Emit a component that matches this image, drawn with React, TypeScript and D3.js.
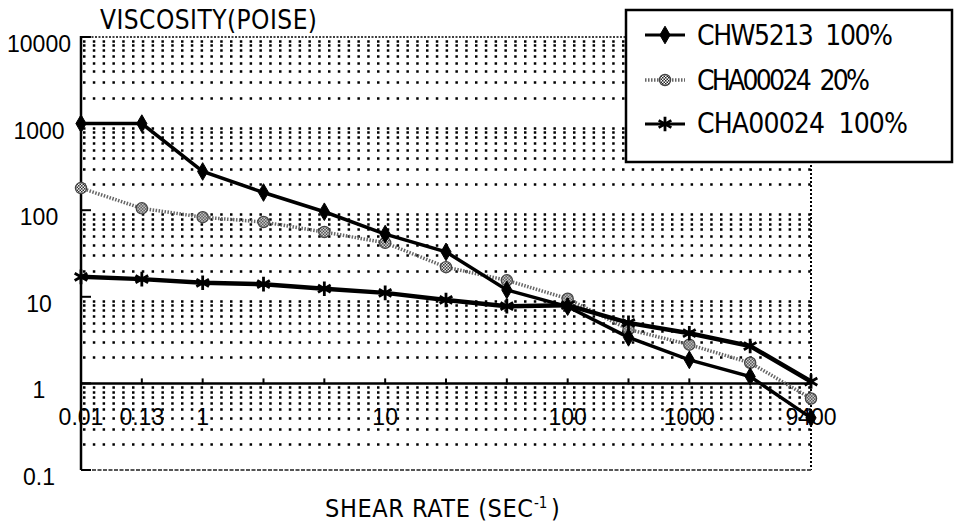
import React from 'react';
import * as d3 from 'd3';

// Shear-rate categories (evenly spaced points), with the labels shown under the axis
const shearRateLabels = ['0.01', '0.13', '1', '', '', '10', '', '', '100', '', '1000', '', '9400'];

// Viscosity (poise) per shear-rate point
const chw5213_100 = [1000, 1000, 280, 160, 96, 53, 33, 12, 7.7, 3.4, 1.87, 1.2, 0.4];
const cha00024_20 = [180, 105, 83, 73, 56, 42, 22, 15.5, 9.5, 4.2, 2.8, 1.73, 0.67];
const cha00024_100 = [17, 16, 14.5, 14, 12.4, 11.1, 9.2, 7.8, 8.0, 5.0, 3.8, 2.7, 1.05];

const seriesNames = ['CHW5213  100%', 'CHA00024  20%', 'CHA00024  100%'];
const viscosityTicks = [0.1, 1, 10, 100, 1000, 10000];

const W = 954;
const H = 528;
const PL = 81;
const PR = 811;
const PT = 37;
const PB = 470;

const NARROW = '"Liberation Sans Narrow", "DejaVu Sans Condensed", "Liberation Sans", sans-serif';
const SANS = '"Liberation Sans", Arial, sans-serif';

export default function App() {
  const x = d3.scalePoint<number>().domain(d3.range(shearRateLabels.length)).range([PL, PR]);
  const y = d3.scaleLog().domain([0.1, 10000]).range([PB, PT]);

  // minor grid rows: 2..9 within each decade
  const minor: number[] = [];
  for (let d = 0.1; d < 10000; d *= 10) {
    for (let k = 2; k <= 9; k++) minor.push(+(k * d).toPrecision(3));
  }

  const line = d3
    .line<number>()
    .x((_, i) => x(i) as number)
    .y((v) => y(v));

  const diamond = d3.symbol(d3.symbolDiamond, 90)()!;
  const asterisk = d3.symbol(d3.symbolAsterisk, 150)()!;
  const circle = d3.symbol(d3.symbolCircle, 100)()!;

  const Diamond = ({ cx, cy }: { cx: number; cy: number }) => (
    <path d={diamond} transform={`translate(${cx},${cy})`} fill="#000" stroke="#000" strokeWidth={1} />
  );
  const Hatched = ({ cx, cy }: { cx: number; cy: number }) => (
    <path d={circle} transform={`translate(${cx},${cy})`} fill="url(#checker)" stroke="#444" strokeWidth={1.2} />
  );
  const Star = ({ cx, cy }: { cx: number; cy: number }) => (
    <path d={asterisk} transform={`translate(${cx},${cy})`} fill="none" stroke="#000" strokeWidth={2.8} />
  );

  const axisY = y(1);

  return (
    <svg
      width={W}
      height={H}
      viewBox={`0 0 ${W} ${H}`}
      style={{ position: 'absolute', left: 0, top: 0, background: '#fff' }}
    >
      <defs>
        <pattern id="checker" width="3" height="3" patternUnits="userSpaceOnUse">
          <rect width="3" height="3" fill="#fff" />
          <rect width="1.5" height="1.5" fill="#222" />
          <rect x="1.5" y="1.5" width="1.5" height="1.5" fill="#222" />
        </pattern>
      </defs>
      <rect width={W} height={H} fill="#fff" />

      {/* dotted minor grid */}
      <g>
        {minor.map((v) => (
          <line
            key={v}
            x1={PL + 2}
            x2={PR}
            y1={Math.round(y(v)) + 0.5}
            y2={Math.round(y(v)) + 0.5}
            stroke="#000"
            strokeWidth={2.5}
            strokeDasharray="2.5 7.3"
          />
        ))}
      </g>

      {/* plot frame */}
      <line x1={PL} x2={PR} y1={PT} y2={PT} stroke="#000" strokeWidth={1.5} strokeDasharray="2 1.5" />
      <line x1={PR} x2={PR} y1={PT} y2={PB} stroke="#000" strokeWidth={2} strokeDasharray="2 2" />
      <line x1={PL} x2={PR} y1={PB} y2={PB} stroke="#555" strokeWidth={2} strokeDasharray="4 1.5" />
      <line x1={PL} x2={PL} y1={PT - 1} y2={PB} stroke="#000" strokeWidth={2.5} />

      {/* y ticks pointing inward */}
      {viscosityTicks.map((v) => (
        <line key={v} x1={PL} x2={PL + 10} y1={y(v)} y2={y(v)} stroke="#000" strokeWidth={2} />
      ))}

      {/* category axis at viscosity 1 */}
      <line x1={PL} x2={PR} y1={axisY} y2={axisY} stroke="#000" strokeWidth={2.5} />
      {x.domain().slice(1, -1).map((i) => (
        <line key={i} x1={x(i)} x2={x(i)} y1={axisY - 5} y2={axisY + 1} stroke="#000" strokeWidth={2} />
      ))}

      {/* y tick labels */}
      {viscosityTicks.map((v) => (
        <text
          key={v}
          x={39}
          y={Math.max(y(v) + 15, 47)}
          textAnchor="middle"
          fontFamily={SANS}
          fontSize={23}
          fill="#000"
        >
          {String(v)}
        </text>
      ))}

      {/* x category labels */}
      {shearRateLabels.map((t, i) =>
        t ? (
          <text
            key={i}
            x={x(i)}
            y={425}
            textAnchor="middle"
            fontFamily={SANS}
            fontSize={23}
            fontWeight={300}
            fill="#000"
          >
            {t}
          </text>
        ) : null
      )}

      {/* series */}
      <path d={line(cha00024_20)!} fill="none" stroke="#666" strokeWidth={3.5} strokeDasharray="1.5 1.5" />
      <path d={line(chw5213_100)!} fill="none" stroke="#000" strokeWidth={3.5} />
      <path d={line(cha00024_100)!} fill="none" stroke="#000" strokeWidth={4.5} />
      {cha00024_20.map((v, i) => (
        <Hatched key={i} cx={x(i) as number} cy={y(v)} />
      ))}
      {chw5213_100.map((v, i) => (
        <Diamond key={i} cx={x(i) as number} cy={y(v)} />
      ))}
      {cha00024_100.map((v, i) => (
        <Star key={i} cx={x(i) as number} cy={y(v)} />
      ))}

      {/* axis titles */}
      <text x={100} y={29} fontFamily={NARROW} fontSize={26} textLength={217} lengthAdjust="spacing" fill="#000">
        VISCOSITY(POISE)
      </text>
      <text x={325} y={517} fontFamily={NARROW} fontSize={25} fill="#000">
        <tspan textLength={208} lengthAdjust="spacing">SHEAR RATE (SEC</tspan>
        <tspan x={534} y={508} fontSize={15}>-1</tspan>
        <tspan x={551} y={517}>)</tspan>
      </text>

      {/* legend */}
      <rect x={626} y={10} width={326} height={152} fill="#fff" stroke="#000" strokeWidth={2.5} />
      {seriesNames.map((name, i) => {
        const ly = [35, 80, 124][i];
        const by = [45, 90, 133][i];
        const widths = [196, 173, 211];
        return (
          <g key={name}>
            {i === 0 && <line x1={645} x2={685} y1={ly} y2={ly} stroke="#000" strokeWidth={3} />}
            {i === 1 && (
              <line x1={645} x2={685} y1={ly} y2={ly} stroke="#666" strokeWidth={3.5} strokeDasharray="1.5 1.5" />
            )}
            {i === 2 && <line x1={645} x2={685} y1={ly} y2={ly} stroke="#000" strokeWidth={3} />}
            {i === 0 && <Diamond cx={665} cy={ly} />}
            {i === 1 && <Hatched cx={665} cy={ly} />}
            {i === 2 && <Star cx={665} cy={ly} />}
            <text
              x={697}
              y={by}
              fontFamily={NARROW}
              fontSize={28}
              textLength={widths[i]}
              lengthAdjust="spacing"
              fill="#000"
              style={{ whiteSpace: 'pre' }}
            >
              {name}
            </text>
          </g>
        );
      })}
    </svg>
  );
}
